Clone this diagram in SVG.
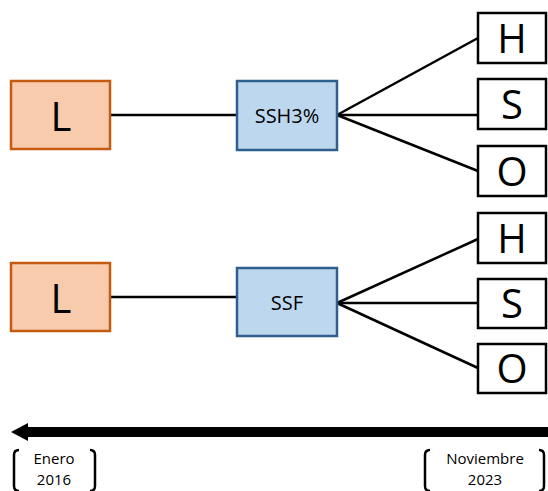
<svg xmlns="http://www.w3.org/2000/svg" width="548" height="491" viewBox="0 0 548 491">
<style>
.lb{fill:#F8CBAD;stroke:#C55A11;stroke-width:2.5}
.sb{fill:#BDD7EE;stroke:#2F5F8F;stroke-width:2.5}
.wb{fill:#fff;stroke:#000;stroke-width:2.5}
.big{font-family:"Open Sans","Noto Sans",sans-serif;font-size:40px;fill:#000;text-anchor:middle}
.mid{font-family:"Open Sans","Noto Sans",sans-serif;font-size:20px;fill:#000;text-anchor:middle}
.sm{font-family:"Open Sans","Noto Sans",sans-serif;font-size:15px;fill:#000;text-anchor:middle}
.ln{stroke:#000;stroke-width:2.5;fill:none}
.br{stroke:#000;stroke-width:2.5;fill:none}
</style>
<g id="connectors">
<line class="ln" x1="110" y1="115" x2="237" y2="115"/>
<line class="ln" x1="337" y1="115" x2="478" y2="38"/>
<line class="ln" x1="337" y1="115" x2="478" y2="115"/>
<line class="ln" x1="337" y1="115" x2="478" y2="171"/>
<line class="ln" x1="110" y1="297" x2="237" y2="297"/>
<line class="ln" x1="337" y1="303" x2="478" y2="239"/>
<line class="ln" x1="337" y1="303" x2="478" y2="303"/>
<line class="ln" x1="337" y1="303" x2="478" y2="368"/>
</g>
<g id="L1"><rect class="lb" x="11" y="81" width="99" height="68"/><text class="big" x="61" y="131">L</text></g>
<g id="SSH3"><rect class="sb" x="237" y="81" width="100" height="69"/><text class="mid" x="287" y="123">SSH3%</text></g>
<g id="H1"><rect class="wb" x="478" y="13" width="68" height="50"/><text class="big" x="512" y="53">H</text></g>
<g id="S1"><rect class="wb" x="478" y="79" width="68" height="50"/><text class="big" x="512" y="119">S</text></g>
<g id="O1"><rect class="wb" x="478" y="146" width="68" height="50"/><text class="big" x="512" y="186">O</text></g>
<g id="L2"><rect class="lb" x="11" y="263" width="99" height="68"/><text class="big" x="61" y="313">L</text></g>
<g id="SSF"><rect class="sb" x="237" y="268" width="100" height="68"/><text class="mid" x="287" y="310">SSF</text></g>
<g id="H2"><rect class="wb" x="478" y="213" width="68" height="50"/><text class="big" x="512" y="253">H</text></g>
<g id="S2"><rect class="wb" x="478" y="279" width="68" height="49"/><text class="big" x="512" y="318">S</text></g>
<g id="O2"><rect class="wb" x="478" y="344" width="68" height="49"/><text class="big" x="512" y="383">O</text></g>
<g id="timeline">
<rect x="26" y="427" width="522" height="10" fill="#000"/>
<polygon points="11,432 28,423 28,441" fill="#000"/>
</g>
<g id="start">
<path class="br" d="M19,450 Q14,450 14,455 L14,486 Q14,491 19,491"/>
<path class="br" d="M90,450 Q95,450 95,455 L95,486 Q95,491 90,491"/>
<text class="sm" x="54" y="464">Enero</text>
<text class="sm" x="54" y="485">2016</text>
</g>
<g id="end">
<path class="br" d="M430,450 Q425,450 425,455 L425,486 Q425,491 430,491"/>
<path class="br" d="M539,450 Q544,450 544,455 L544,486 Q544,491 539,491"/>
<text class="sm" x="485" y="464">Noviembre</text>
<text class="sm" x="485" y="485">2023</text>
</g>
</svg>
